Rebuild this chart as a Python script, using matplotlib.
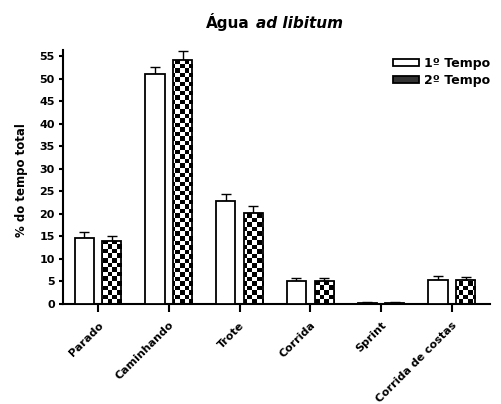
import numpy as np
import matplotlib
matplotlib.use("Agg")
import matplotlib.pyplot as plt
from matplotlib.patches import Patch

# --- dados ---
categorias = ["Parado", "Caminhando", "Trote", "Corrida", "Sprint", "Corrida de costas"]
tempo1 = [14.7, 50.9, 22.8, 5.2, 0.3, 5.4]
tempo1_erro = [1.3, 1.7, 1.6, 0.5, 0.1, 0.7]
tempo2 = [14.0, 54.1, 20.1, 5.2, 0.3, 5.3]
tempo2_erro = [1.1, 2.0, 1.6, 0.6, 0.1, 0.7]
yticks = list(range(0, 60, 5))

plt.rcParams["font.family"] = "DejaVu Sans"
plt.rcParams["font.weight"] = "bold"

fig = plt.figure(figsize=(5.01, 4.04), dpi=100)
ax = fig.add_axes([0.125, 0.2475, 0.853, 0.6285])

x = np.arange(len(categorias))
largura = 0.27
desloc = 0.195
ylim = (0, 56.3)
xlim = (-0.5, 5.54)

b1 = ax.bar(x - desloc, tempo1, largura, facecolor="white", edgecolor="black",
            linewidth=1.3, zorder=3)
b2 = ax.bar(x + desloc, tempo2, largura, facecolor="none", edgecolor="black",
            linewidth=1.3, zorder=3)

# padrão xadrez dentro das barras do 2º tempo
nx, ny = 95, 56
jj, ii = np.meshgrid(np.arange(nx), np.arange(ny))
xadrez = ((ii + jj) % 2).astype(float)
for barra in b2:
    im = ax.imshow(xadrez, cmap="gray", vmin=0, vmax=1, interpolation="nearest",
                   origin="lower", extent=(xlim[0], xlim[1], ylim[0], ylim[1]),
                   aspect="auto", zorder=2)
    im.set_clip_path(barra)

ax.errorbar(x - desloc, tempo1, yerr=[np.zeros(len(tempo1)), tempo1_erro],
            fmt="none", ecolor="black", elinewidth=1.0, capsize=3.6,
            capthick=1.0, zorder=1)
ax.errorbar(x + desloc, tempo2, yerr=[np.zeros(len(tempo2)), tempo2_erro],
            fmt="none", ecolor="black", elinewidth=1.0, capsize=3.6,
            capthick=1.0, zorder=1)

ax.set_xlim(*xlim)
ax.set_ylim(*ylim)
ax.set_yticks(yticks)
ax.set_xticks(x)
ax.set_xticklabels(categorias, rotation=45, ha="right", va="top",
                   rotation_mode="anchor", fontsize=8, fontweight="bold")
for lab in ax.get_yticklabels():
    lab.set_fontsize(8)
    lab.set_fontweight("bold")

for s in ["top", "right"]:
    ax.spines[s].set_visible(False)
for s in ["left", "bottom"]:
    ax.spines[s].set_linewidth(1.5)
ax.tick_params(axis="y", length=3.2, width=1.5, pad=2.5)
ax.tick_params(axis="x", length=5.5, width=1.5, pad=6)

ax.set_ylabel("% do tempo total", fontsize=8.5, fontweight="bold")
ax.yaxis.set_label_coords(-0.082, 0.488)

# título com parte em itálico
fig.text(250 / 501, 1 - 28 / 404, "Água", ha="right", va="baseline",
         fontsize=11, fontweight="bold")
fig.text(256 / 501, 1 - 28 / 404, "ad libitum", ha="left", va="baseline",
         fontsize=11, fontweight="bold", style="italic")

handles = [Patch(facecolor="white", edgecolor="black", linewidth=1.3),
           Patch(facecolor="#333333", edgecolor="black", linewidth=1.3)]
ax.legend(handles, ["1º Tempo", "2º Tempo"], loc="upper left",
          bbox_to_anchor=(393 / 501, 1 - 57 / 404), bbox_transform=fig.transFigure,
          frameon=False, borderpad=0, borderaxespad=0, labelspacing=0.3,
          handlelength=2.1, handleheight=0.45, handletextpad=0.35,
          prop={"size": 9, "weight": "bold"})

fig.savefig("out.png", dpi=100)
